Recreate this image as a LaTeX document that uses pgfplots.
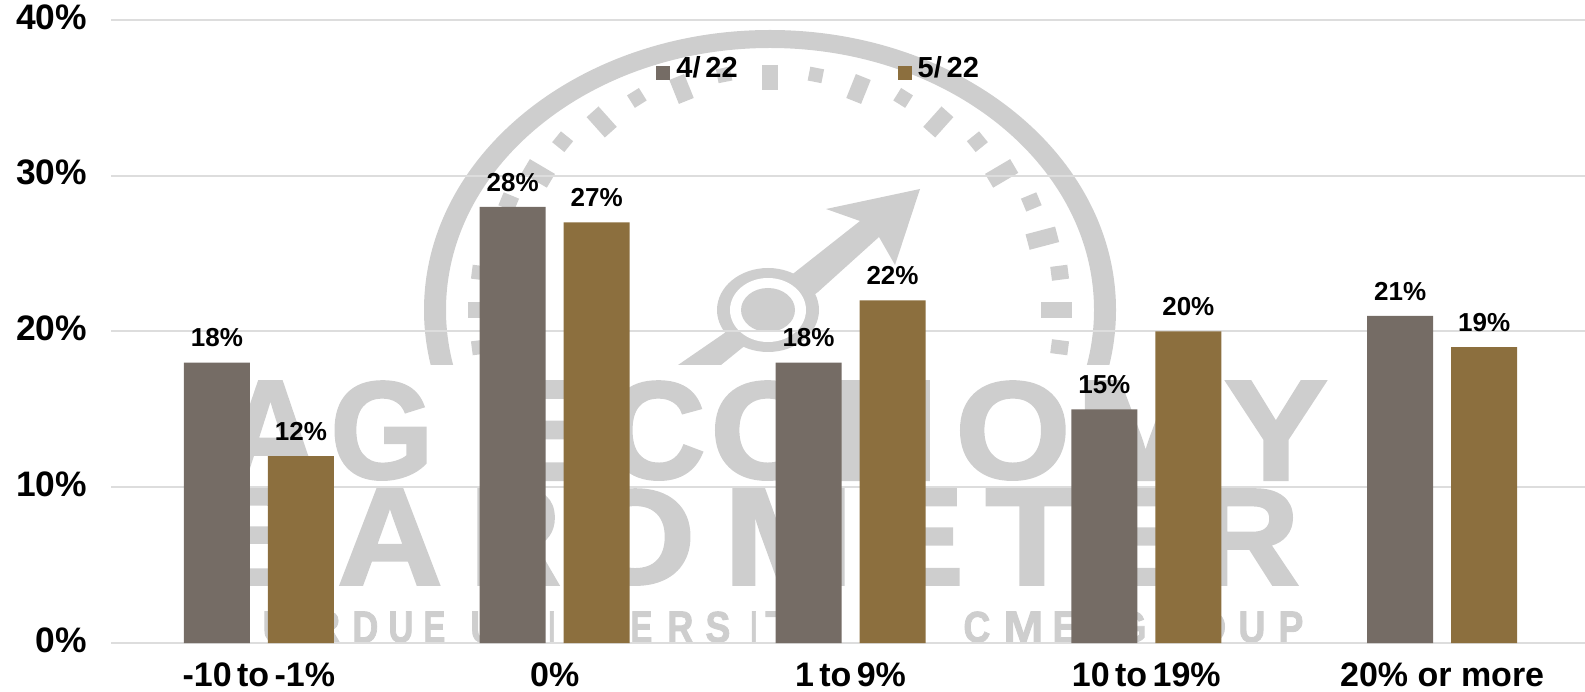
\documentclass[border=0pt]{standalone}
\usepackage{fontspec}
\setmainfont{Liberation Sans}
\newfontfamily\wmfont[FakeBold=2]{Liberation Sans Bold}
\usepackage{graphicx}
\usepackage{pgfplots}
\pgfplotsset{compat=1.18}
\definecolor{barA}{HTML}{756C65}
\definecolor{barB}{HTML}{8C6F3E}
\definecolor{wm}{HTML}{CECECE}
\definecolor{gridc}{HTML}{DDDDDD}

\pgfplotstableread{
x a b
0 18 12
1 28 27
2 18 22
3 15 20
4 21 19
}\shares

% one watermark letter: left px, right px, base px, height pt, letter
\newcommand{\wmletter}[5]{%
  \pgfmathsetmacro\wmw{(#2-#1)*0.5}%
  \node[wm,anchor=south west,inner sep=0pt] at (#1,#3)
    {\resizebox*{\wmw pt}{#4pt}{\wmfont #5}};}

\begin{document}
\begin{tikzpicture}
% 1 px of the reference = 0.5pt
\useasboundingbox (0,0) rectangle (792.5pt,345.5pt);

% watermark behind the chart, in image coordinates
\begin{scope}[x=0.5pt,y=-0.5pt,yshift=345.5pt]
  \begin{scope}
    \clip (0,0) rectangle (1585,365);
    \fill[wm,even odd rule] (770,310) ellipse [x radius=346,y radius=280]
                            (770,310) ellipse [x radius=324,y radius=262];
  \end{scope}
  \foreach \a in {-90,-72,...,90}
    \draw[wm,line width=8pt] ({770+345*0.875*sin(\a)},{310-280*0.875*cos(\a)})
      -- ({770+345*0.785*sin(\a)},{310-280*0.785*cos(\a)});
  \foreach \a in {-99,-81,...,99}
    \draw[wm,line width=7pt] ({770+345*0.875*sin(\a)},{310-280*0.875*cos(\a)})
      -- ({770+345*0.825*sin(\a)},{310-280*0.825*cos(\a)});
  % needle
  \fill[wm] (678,365) -- (721,365) -- (742,348) -- (818,292) -- (879,237)
    -- (895,265) -- (920,189) -- (826,209) -- (860,221) -- (794,273) -- (726,332) -- cycle;
  \fill[wm] (768,310) ellipse [x radius=51,y radius=42];
  \fill[white] (768,310) ellipse [x radius=38,y radius=32];
  \fill[wm] (768,310) ellipse [x radius=27,y radius=22];
  % wordmark, letter by letter
  \foreach \a/\b/\c in {222/318/A,330/433/G,510/600/E,605/705/C,710/825/O,
      830/938/N,955/1070/O,1075/1215/M,1224/1327/Y}
    {\wmletter{\a}{\b}{480}{49}{\c}}
  \foreach \a/\b/\c in {225/305/B,337/442/A,470/560/R,575/695/O,723/853/M,
      875/963/E,985/1078/T,1090/1185/E,1195/1299/R}
    {\wmletter{\a}{\b}{585}{47.5}{\c}}
  \foreach \a/\b/\c in {222/250/P,262/292/U,310/340/R,352/378/D,388/413/U,423/445/E,
      470/496/U,505/535/N,548/555/I,568/600/V,630/652/E,667/693/R,705/730/S,
      750/757/I,765/795/T,805/835/Y,963/990/C,1003/1043/M,1052/1078/E,
      1118/1146/G,1155/1185/R,1192/1226/O,1238/1265/U,1278/1303/P}
    {\wmletter{\a}{\b}{643}{15.5}{\c}}
\end{scope}

\begin{axis}[
  at={(55.5pt,24pt)}, anchor=south west,
  scale only axis, width=737pt, height=311.5pt,
  ymin=0, ymax=40, xmin=-0.5, xmax=4.483,
  ybar, bar width=33pt,
  xtick=data,
  xticklabels={-10\kern2.7pt to\kern2.7pt -1\%,0\%,1\kern2.7pt to\kern2.7pt 9\%,10\kern2.7pt to\kern2.7pt 19\%,20\% or more},
  ytick={0,10,20,30,40}, yticklabels={0\%,10\%,20\%,30\%,40\%},
  major tick length=0pt,
  axis line style={draw=none},
  ymajorgrids, grid style={gridc,line width=1pt},
  clip=false,
  xticklabel style={font=\fontsize{17}{17}\selectfont\bfseries,yshift=-6.5pt},
  yticklabel style={font=\fontsize{17.7}{17.7}\selectfont\bfseries,xshift=-8.5pt,yshift=1.5pt},
  nodes near coords={\pgfmathprintnumber[assume math mode=true]{\pgfplotspointmeta}\%},
  every node near coord/.append style={font=\fontsize{13}{13}\selectfont\bfseries,text=black,inner sep=0pt,yshift=7.5pt},
  legend style={draw=none,fill=none,at={(272.5pt,287.2pt)},anchor=west,
    font=\fontsize{14.5}{14.5}\selectfont\bfseries,
    /tikz/every even column/.append style={column sep=78pt},inner sep=0pt},
  legend columns=2,
  legend image code/.code={\fill[#1] (0pt,-5.5pt) rectangle (7pt,1.5pt);},
]
\addplot[fill=barA,draw=none,bar shift=-21pt] table[x=x,y=a] {\shares};
\addplot[fill=barB,draw=none,bar shift=21pt] table[x=x,y=b] {\shares};
\legend{\kern1pt 4/\,22,\kern1pt 5/\,22}
\end{axis}
\end{tikzpicture}
\end{document}
